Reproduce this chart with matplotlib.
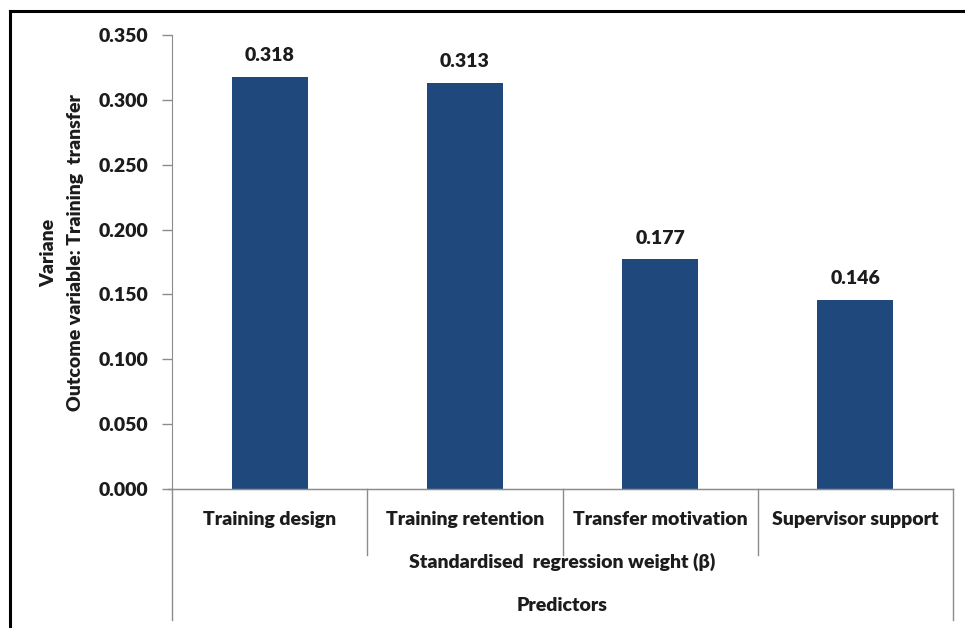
import matplotlib.pyplot as plt
from matplotlib.lines import Line2D

predictors = ["Training design", "Training retention", "Transfer motivation", "Supervisor support"]
beta = [0.318, 0.313, 0.177, 0.146]
yticks = [0.000, 0.050, 0.100, 0.150, 0.200, 0.250, 0.300, 0.350]

plt.rcParams['font.family'] = ['Lato', 'DejaVu Sans']
txt = '#1c1c1c'
grey = '#8c8c8c'
fw = 'heavy'
fs = 14

fig = plt.figure(figsize=(9.65, 6.28), dpi=100)
ax = fig.add_axes([172/965, (628-489)/628, (953-172)/965, 454/628])

x = range(len(predictors))
ax.bar(x, beta, width=0.39, color='#1F497D', zorder=2)
for i, v in enumerate(beta):
    ax.text(i, v + 0.0098, f"{v:.3f}", ha='center', va='bottom',
            fontsize=fs, fontweight=fw, color=txt)

ax.set_xlim(-0.5, len(predictors) - 0.5)
ax.set_ylim(0, 0.35)
ax.set_yticks(yticks)
ax.set_yticklabels([f"{t:.3f}" for t in yticks], fontsize=fs, fontweight=fw, color=txt)
ax.tick_params(axis='y', direction='out', length=7, width=1, color=grey, pad=10)
ax.set_xticks([])

for s in ['top', 'right']:
    ax.spines[s].set_visible(False)
ax.spines['left'].set_color(grey)
ax.spines['bottom'].set_color(grey)

# multi-level category axis below the plot
tr = ax.get_xaxis_transform()
for sx in [0.5, 1.5, 2.5]:
    ax.plot([sx, sx], [0, -0.145], transform=tr, color=grey, lw=1, clip_on=False)
for sx in [-0.5, 3.5]:
    ax.plot([sx, sx], [0, -0.289], transform=tr, color=grey, lw=1, clip_on=False)
ax.plot([-0.5 - 0.02, 3.5], [0, 0], transform=tr, color=grey, lw=1, clip_on=False)

for i, name in enumerate(predictors):
    ax.text(i, -0.068, name, transform=tr, ha='center', va='center',
            fontsize=fs, fontweight=fw, color=txt)
ax.text(1.5, -0.161, "Standardised  regression weight (β)", transform=tr,
        ha='center', va='center', fontsize=fs, fontweight=fw, color=txt)
ax.text(1.5, -0.256, "Predictors", transform=tr,
        ha='center', va='center', fontsize=fs, fontweight=fw, color=txt)

ax.set_ylabel("Variane\nOutcome variable: Training  transfer", fontsize=fs,
              fontweight=fw, color=txt, multialignment='center', linespacing=1.65)
ax.yaxis.set_label_coords(-0.113, 0.52)

# outer frame edges
fig.add_artist(Line2D([10/965, 1], [1 - 11/628, 1 - 11/628], color='black', lw=2.2))
fig.add_artist(Line2D([10/965, 10/965], [0, 1 - 11/628], color='black', lw=2.2))

fig.savefig("out.png", dpi=100)
